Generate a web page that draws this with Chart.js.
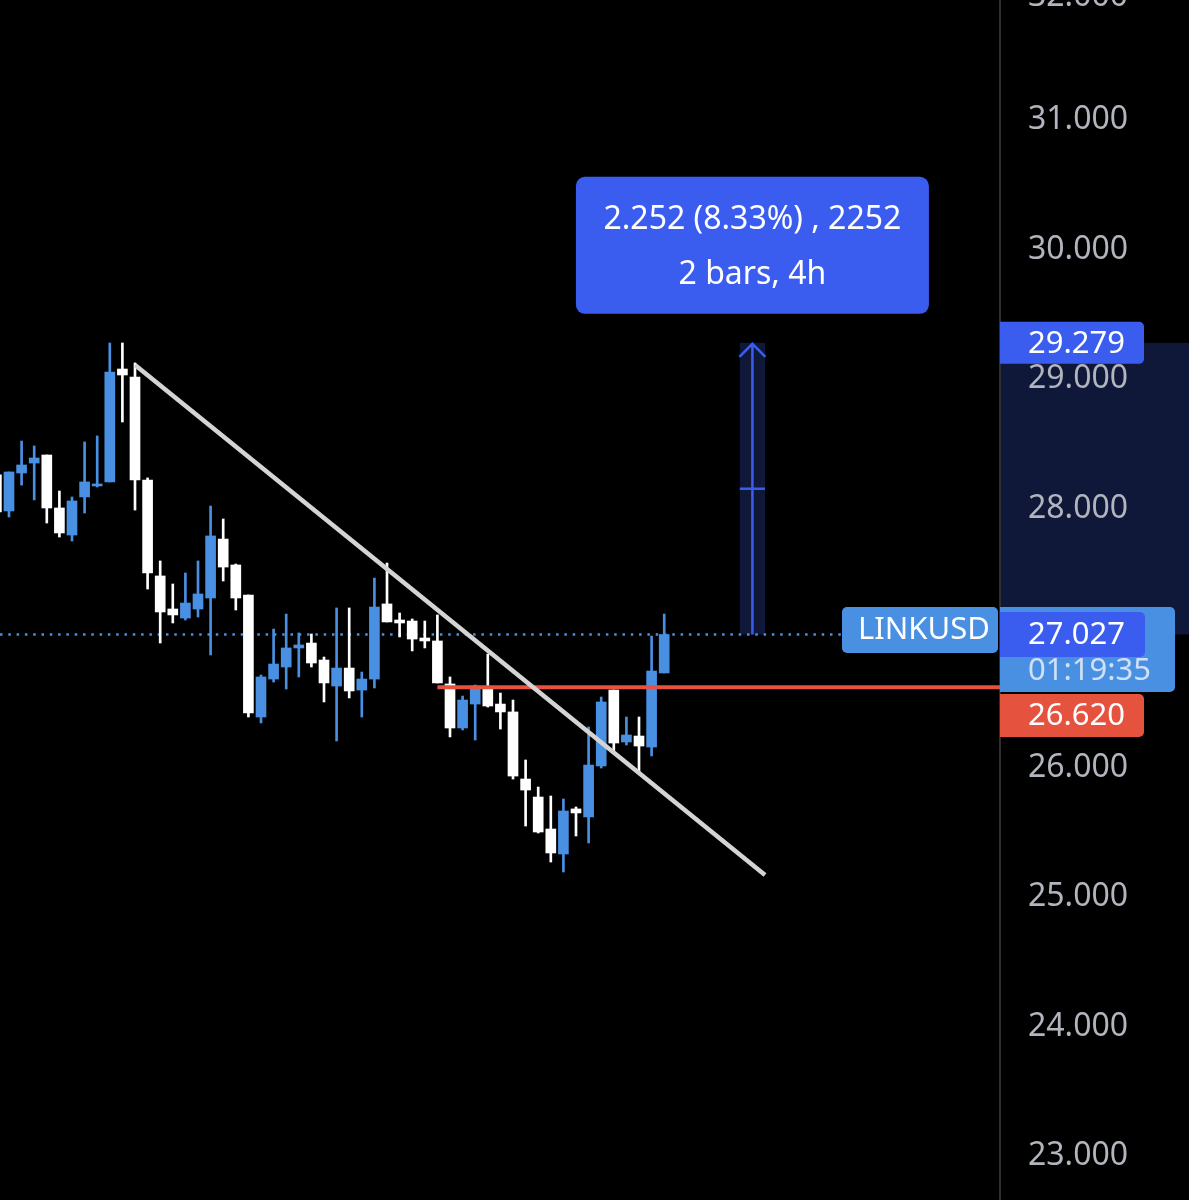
<!DOCTYPE html>
<html lang="en">

<head>
    <meta charset="UTF-8">
    <title>LINKUSD 4h</title>
    <script src="https://cdn.jsdelivr.net/npm/chart.js"></script>
    <style>
        html, body { margin: 0; padding: 0; background: #000; }
        #wrap { position: relative; width: 1189px; height: 1200px; }
    </style>
</head>

<body>
    <div id="wrap"><canvas id="chart"></canvas></div>
    <script>
        // 4h candles, oldest first (index = bar number)
        const opens = [28.259, 27.981, 28.274, 28.351, 28.413, 28.004, 27.795, 28.089, 28.174, 28.205,
            29.077, 29.015, 28.220, 27.479, 27.224, 27.154, 27.224, 27.309, 27.764, 27.564,
            27.332, 26.390, 26.683, 26.776, 26.923, 26.961, 26.830, 26.629, 26.768, 26.598,
            26.683, 27.263, 27.139, 27.131, 27.000, 26.977, 26.645, 26.305, 26.490, 26.606,
            26.490, 26.429, 25.911, 25.772, 25.525, 25.332, 25.680, 25.618, 26.012, 26.598,
            26.197, 26.243, 26.158, 26.730];
        const highs = [28.313, 28.282, 28.521, 28.483, 28.413, 28.135, 28.089, 28.514, 28.560, 29.278,
            29.278, 29.124, 28.236, 27.595, 27.417, 27.502, 27.595, 28.019, 27.919, 27.571,
            27.332, 26.714, 27.069, 27.185, 27.039, 27.031, 26.853, 27.232, 27.232, 26.737,
            27.463, 27.579, 27.193, 27.147, 27.131, 27.178, 26.699, 26.552, 26.637, 26.876,
            26.575, 26.521, 26.058, 25.849, 25.780, 25.757, 25.695, 26.313, 26.544, 26.598,
            26.390, 26.390, 27.015, 27.185];
        const lows = [27.942, 27.934, 28.181, 28.066, 27.888, 27.780, 27.749, 27.965, 28.166, 28.205,
            28.668, 27.988, 27.378, 26.961, 27.116, 27.139, 27.162, 26.869, 27.440, 27.216,
            26.390, 26.344, 26.660, 26.606, 26.699, 26.776, 26.506, 26.205, 26.537, 26.390,
            26.614, 27.124, 27.008, 26.900, 26.923, 26.653, 26.236, 26.290, 26.212, 26.467,
            26.297, 25.911, 25.548, 25.494, 25.270, 25.193, 25.471, 25.417, 25.996, 26.127,
            26.174, 25.958, 26.089, 26.730];
        const closes = [27.973, 28.282, 28.336, 28.390, 28.004, 27.811, 28.058, 28.205, 28.189, 29.054,
            29.031, 28.220, 27.502, 27.201, 27.178, 27.270, 27.340, 27.788, 27.548, 27.309,
            26.421, 26.699, 26.799, 26.923, 26.946, 26.807, 26.653, 26.768, 26.591, 26.683,
            27.239, 27.124, 27.116, 26.992, 26.977, 26.653, 26.305, 26.521, 26.629, 26.475,
            26.429, 25.934, 25.826, 25.502, 25.340, 25.664, 25.649, 26.019, 26.506, 26.189,
            26.251, 26.166, 26.745, 27.027];
        const bars = opens.map((o, i) => i);

        const yTicks = [23, 24, 25, 26, 27, 28, 29, 30, 31, 32];
        const symbol = 'LINKUSD';
        const lastPrice = 27.027;
        const countdown = '01:19:35';
        const levelPrice = 26.620;
        const levelStart = 35;
        const trendX = [11, 61];
        const trendY = [29.108, 25.170];
        const measureBar = 60;
        const measureTop = 29.279;
        const measureText = ['2.252 (8.33%) , 2252', '2 bars, 4h'];

        const upColor = '#4a90e2';
        const downColor = '#ffffff';
        const candleColors = bars.map(i => closes[i] >= opens[i] ? upColor : downColor);
        const FONT = "'Noto Sans', sans-serif";

        function box(ctx, x, y, w, h, r, fill) {
            ctx.fillStyle = fill;
            ctx.beginPath();
            ctx.roundRect(x, y, w, h, r);
            ctx.fill();
        }

        function label(ctx, text, x, y, color, align) {
            ctx.fillStyle = color;
            ctx.textAlign = align || 'left';
            ctx.textBaseline = 'middle';
            ctx.fillText(text, x, y);
        }

        const overlay = {
            id: 'overlay',
            beforeDraw(chart) {
                const { ctx, chartArea: a, scales: { x, y } } = chart;
                ctx.save();
                ctx.fillStyle = '#000';
                ctx.fillRect(0, 0, chart.width, chart.height);
                const yt = y.getPixelForValue(measureTop);
                const yb = y.getPixelForValue(lastPrice);
                const x0 = x.getPixelForValue(measureBar - 1);
                const x1 = x.getPixelForValue(measureBar + 1);
                ctx.fillStyle = '#0f1839';
                ctx.fillRect(x0, yt, x1 - x0, yb - yt);
                ctx.fillRect(a.right, yt, chart.width - a.right, yb - yt);
                ctx.restore();
            },
            beforeDatasetsDraw(chart) {
                const { ctx, chartArea: a, scales: { y } } = chart;
                const yp = y.getPixelForValue(lastPrice);
                ctx.save();
                ctx.strokeStyle = upColor;
                ctx.lineWidth = 2.5;
                ctx.setLineDash([2.5, 5.8]);
                ctx.beginPath();
                ctx.moveTo(a.left, yp);
                ctx.lineTo(a.right - 158, yp);
                ctx.stroke();
                ctx.restore();
            },
            afterDatasetsDraw(chart) {
                const { ctx, scales: { x, y } } = chart;
                const xc = x.getPixelForValue(measureBar);
                const x0 = x.getPixelForValue(measureBar - 1);
                const x1 = x.getPixelForValue(measureBar + 1);
                const yt = y.getPixelForValue(measureTop);
                const yb = y.getPixelForValue(lastPrice);
                ctx.save();
                ctx.strokeStyle = '#3a5df0';
                ctx.lineWidth = 2.5;
                ctx.beginPath();
                ctx.moveTo(xc, yb);
                ctx.lineTo(xc, yt + 1);
                ctx.moveTo(xc - 13, yt + 14);
                ctx.lineTo(xc, yt + 1);
                ctx.lineTo(xc + 13, yt + 14);
                ctx.moveTo(x0, (yt + yb) / 2);
                ctx.lineTo(x1, (yt + yb) / 2);
                ctx.stroke();

                // measure info box
                const w = 353, h = 137;
                box(ctx, xc - w / 2, yt - 29 - h, w, h, 9, '#3a5df0');
                ctx.font = '32px ' + FONT;
                label(ctx, measureText[0], xc, yt - 29 - h + 43, '#ffffff', 'center');
                label(ctx, measureText[1], xc, yt - 29 - h + 98, '#ffffff', 'center');
                ctx.restore();
            },
            afterDraw(chart) {
                const { ctx, chartArea: a, scales: { y } } = chart;
                ctx.save();
                ctx.font = '32px ' + FONT;
                label(ctx, yTicks[yTicks.length - 1].toFixed(3), a.right + 28, y.getPixelForValue(32) + 6, '#b2b5be');

                ctx.font = '31px ' + FONT;
                // measure target tag
                const ym = y.getPixelForValue(measureTop);
                box(ctx, a.right, ym - 21, 144, 42, [0, 5, 5, 0], '#3a5df0');
                label(ctx, measureTop.toFixed(3), a.right + 28, ym + 1, '#ffffff');

                // last price tag with countdown
                const yl = y.getPixelForValue(lastPrice);
                box(ctx, a.right - 158, yl - 27.5, 156, 46, 5, upColor);
                label(ctx, symbol, a.right - 142, yl - 4, '#ffffff');
                box(ctx, a.right, yl - 27.5, 175, 85, [0, 5, 5, 0], upColor);
                box(ctx, a.right, yl - 22.5, 145, 45, [0, 5, 5, 0], '#3a5df0');
                label(ctx, lastPrice.toFixed(3), a.right + 28, yl + 1, '#ffffff');
                label(ctx, countdown, a.right + 28, yl + 37, '#cfe0f8');

                // level tag
                const yr = Math.max(y.getPixelForValue(levelPrice) - 21.5, yl + 59.5);
                box(ctx, a.right, yr, 144, 43, [0, 5, 5, 0], '#e5533f');
                label(ctx, levelPrice.toFixed(3), a.right + 28, yr + 22, '#ffffff');
                ctx.restore();
            }
        };

        new Chart(
            document.getElementById('chart'),
            {
                type: 'bar',
                data: {
                    datasets: [
                        {
                            type: 'line',
                            label: 'trend',
                            data: trendX.map((v, i) => ({ x: v, y: trendY[i] })),
                            borderColor: '#d4d4d4',
                            borderWidth: 4.5,
                            pointRadius: 0,
                            order: 0
                        },
                        {
                            type: 'line',
                            label: 'level',
                            data: [{ x: levelStart, y: levelPrice }, { x: 90, y: levelPrice }],
                            borderColor: '#e5533f',
                            borderWidth: 4,
                            pointRadius: 0,
                            order: 0
                        },
                        {
                            label: 'body',
                            data: bars.map(i => ({ x: i, y: [opens[i], closes[i]] })),
                            backgroundColor: candleColors,
                            barThickness: 10,
                            minBarLength: 2,
                            order: 1
                        },
                        {
                            label: 'wick',
                            data: bars.map(i => ({ x: i, y: [lows[i], highs[i]] })),
                            backgroundColor: candleColors,
                            barThickness: 2,
                            order: 2
                        }
                    ]
                },
                options: {
                    responsive: true,
                    maintainAspectRatio: false,
                    animation: false,
                    layout: { padding: 0 },
                    datasets: { bar: { grouped: false, borderWidth: 0 } },
                    plugins: {
                        legend: { display: false },
                        tooltip: { enabled: false }
                    },
                    scales: {
                        x: {
                            type: 'linear',
                            display: false,
                            offset: false,
                            min: 0.286,
                            max: 79.65
                        },
                        y: {
                            position: 'right',
                            min: 22.6602,
                            max: 31.9266,
                            grid: { display: false, drawTicks: false },
                            border: { display: true, color: '#2e2e2e', width: 2 },
                            ticks: {
                                stepSize: 1,
                                includeBounds: false,
                                padding: 28,
                                color: '#b2b5be',
                                font: { family: FONT, size: 32 },
                                callback: v => v.toFixed(3)
                            },
                            afterFit(s) {
                                s.width = 189;
                                s.paddingTop = 0;
                                s.paddingBottom = 0;
                            }
                        }
                    }
                },
                plugins: [overlay]
            }
        );
    </script>
</body>

</html>
